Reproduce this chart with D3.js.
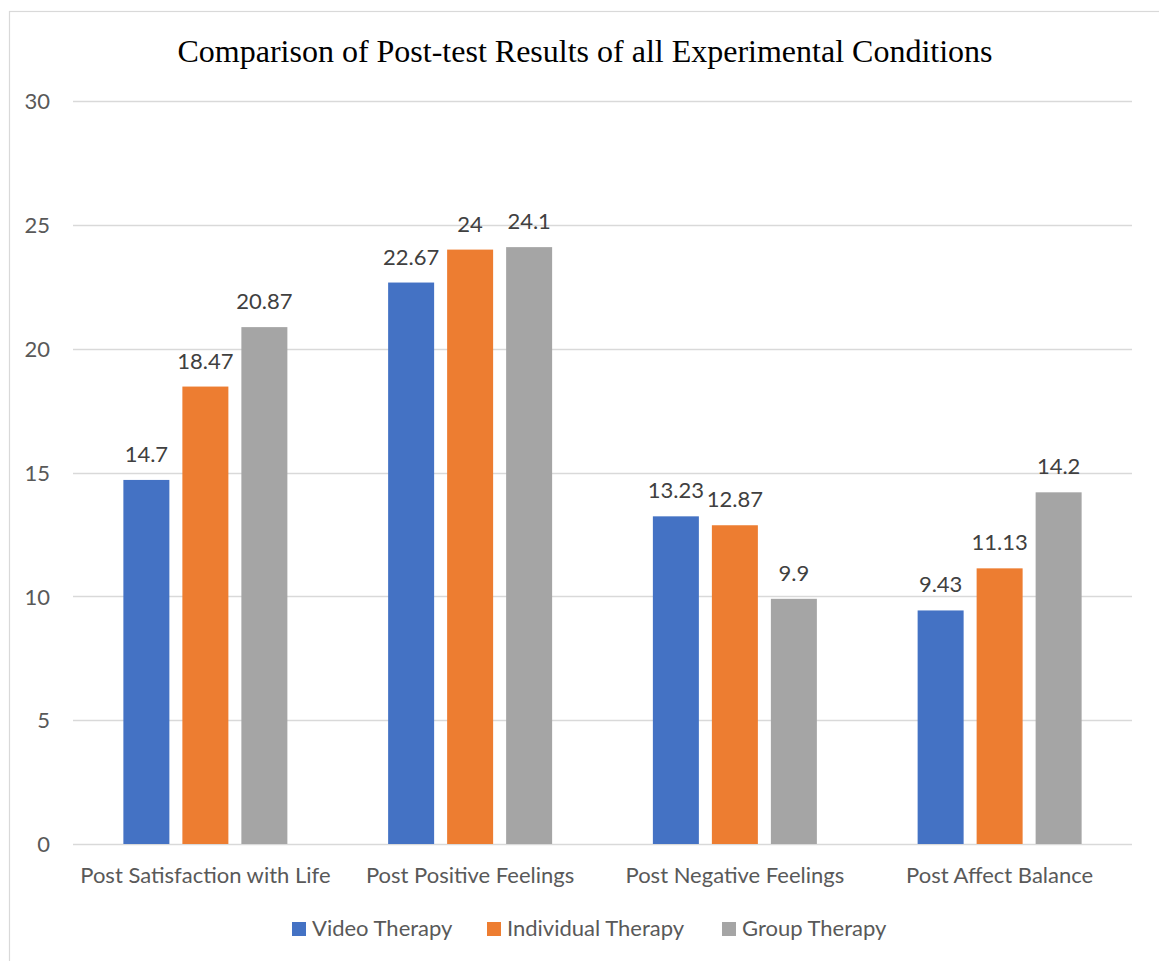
<!DOCTYPE html>
<html>
<head>
<meta charset="utf-8">
<script src="https://cdn.jsdelivr.net/npm/d3@7"></script>
<style>
  html, body { margin: 0; padding: 0; background: #fff; }
  svg { display: block; }
</style>
</head>
<body>
<svg id="chart" width="1159" height="961"></svg>
<script>
// Post-test mean scores per measure and condition
const categories = ["Post Satisfaction with Life", "Post Positive Feelings", "Post Negative Feelings", "Post Affect Balance"];
const seriesNames = ["Video Therapy", "Individual Therapy", "Group Therapy"];
const videoTherapy = [14.7, 22.67, 13.23, 9.43];
const individualTherapy = [18.47, 24, 12.87, 11.13];
const groupTherapy = [20.87, 24.1, 9.9, 14.2];
const yTicks = [0, 5, 10, 15, 20, 25, 30];
const colors = ["#4472C4", "#ED7D31", "#A5A5A5"];

const seriesValues = [videoTherapy, individualTherapy, groupTherapy];

const svg = d3.select("#chart");
const W = 1159, H = 961;
const plot = { left: 73, right: 1132, top: 101, bottom: 844 };
const textColor = "#595959";
const sansFont = "Lato, 'Open Sans', sans-serif";
const fontSize = 22;

// Chart frame
svg.append("rect")
  .attr("x", 9.5).attr("y", 11.5)
  .attr("width", W + 10).attr("height", H + 10)
  .attr("fill", "#fff").attr("stroke", "#D9D9D9").attr("stroke-width", 1.2);

// Title
svg.append("text")
  .attr("x", 585)
  .attr("y", 62)
  .attr("text-anchor", "middle")
  .attr("font-family", "'Liberation Serif', 'Times New Roman', serif")
  .attr("font-size", 32)
  .attr("fill", "#000")
  .text("Comparison of Post-test Results of all Experimental Conditions");

const x0 = d3.scaleBand().domain(categories).range([plot.left, plot.right]).paddingInner(0).paddingOuter(0);
const y = d3.scaleLinear().domain([0, 30]).range([plot.bottom, plot.top]);

// Gridlines
svg.append("g").selectAll("line").data(yTicks).join("line")
  .attr("x1", plot.left).attr("x2", plot.right)
  .attr("y1", d => Math.round(y(d)) + 0.5).attr("y2", d => Math.round(y(d)) + 0.5)
  .attr("stroke", "#D9D9D9").attr("stroke-width", 1.5);

// Y axis labels
const yAxis = d3.axisLeft(y).tickValues(yTicks).tickSize(0).tickPadding(0).tickFormat(d3.format("d"));
const yG = svg.append("g").attr("transform", `translate(${plot.left - 23},0)`).call(yAxis);
yG.select(".domain").remove();
yG.selectAll("text")
  .attr("font-family", sansFont).attr("font-size", fontSize).attr("fill", textColor)
  .attr("dy", "0.35em");

// X axis labels
const xAxis = d3.axisBottom(x0).tickSize(0).tickPadding(0);
const xG = svg.append("g").attr("transform", `translate(0,${plot.bottom + 39})`).call(xAxis);
xG.select(".domain").remove();
xG.selectAll("text")
  .attr("font-family", sansFont).attr("font-size", fontSize).attr("fill", textColor)
  .attr("dy", "0");

// Bars within each category: three bars centred on the category
const barWidth = 46, barStep = 59;
const x1 = d3.scalePoint().domain(seriesNames).range([-barStep, barStep]);

const rows = [];
categories.forEach((c, i) => {
  seriesNames.forEach((s, j) => rows.push({ cat: c, series: s, value: seriesValues[j][i], color: colors[j] }));
});

const barCenter = d => x0(d.cat) + x0.bandwidth() / 2 + x1(d.series);
svg.append("g").selectAll("rect").data(rows).join("rect")
  .attr("x", d => barCenter(d) - barWidth / 2)
  .attr("width", barWidth)
  .attr("y", d => y(d.value))
  .attr("height", d => y(0) - y(d.value))
  .attr("fill", d => d.color);

// Value labels
svg.append("g").selectAll("text").data(rows).join("text")
  .attr("x", d => barCenter(d))
  .attr("y", d => y(d.value) - 18)
  .attr("text-anchor", "middle")
  .attr("font-family", sansFont).attr("font-size", fontSize).attr("fill", "#404040")
  .text(d => d.value);

// Legend
const legendItems = [
  { name: seriesNames[0], color: colors[0], x: 292 },
  { name: seriesNames[1], color: colors[1], x: 487 },
  { name: seriesNames[2], color: colors[2], x: 722 }
];
const lg = svg.append("g").selectAll("g").data(legendItems).join("g")
  .attr("transform", d => `translate(${d.x},936)`);
lg.append("rect").attr("x", 0).attr("y", -14).attr("width", 14).attr("height", 14).attr("fill", d => d.color);
lg.append("text").attr("x", 20).attr("y", 0)
  .attr("font-family", sansFont).attr("font-size", fontSize).attr("fill", textColor)
  .text(d => d.name);
</script>
</body>
</html>
